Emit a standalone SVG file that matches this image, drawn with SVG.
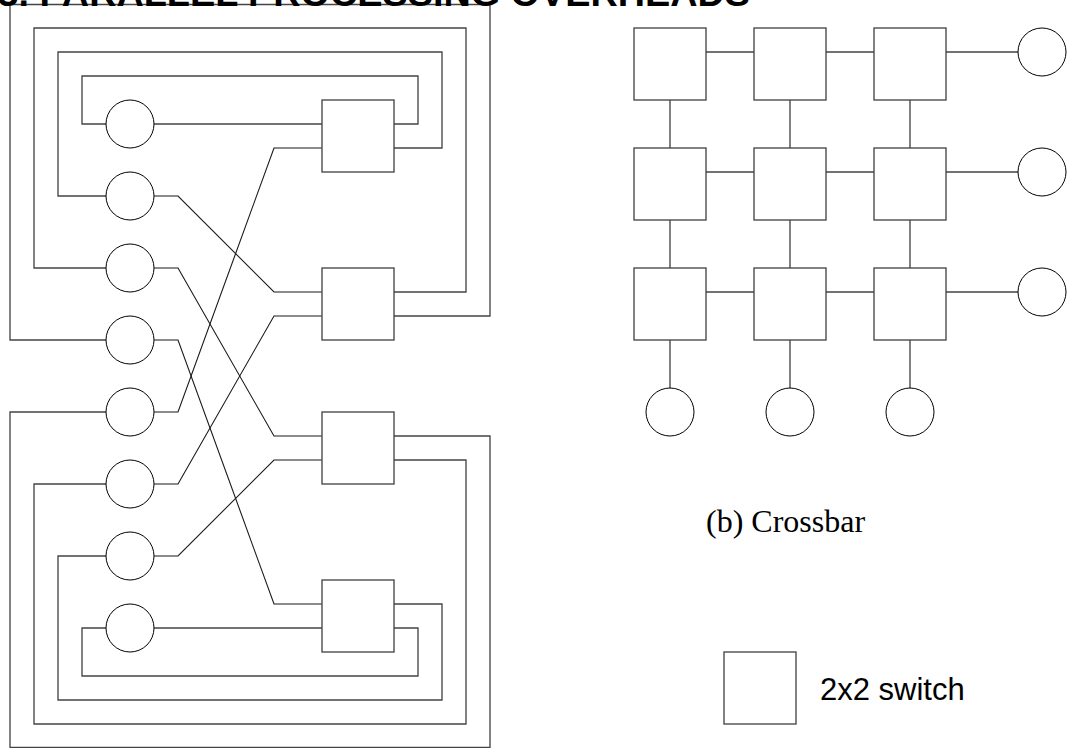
<svg xmlns="http://www.w3.org/2000/svg" width="1067" height="748" viewBox="0 0 1067 748">
<style>
.sw{fill:#fff;stroke:#444;stroke-width:1.33}
.pe{fill:#fff;stroke:#000;stroke-width:1}
.ln{fill:none;stroke:#444;stroke-width:1.33}
.dg{fill:none;stroke:#1a1a1a;stroke-width:1.1}
.title{font-family:"Liberation Sans",Arial,sans-serif;font-weight:bold;font-size:37.8px;fill:#000}
.cap{font-family:"Liberation Serif","Times New Roman",serif;font-size:32px;fill:#000}
.leg{font-family:"Liberation Sans",Arial,sans-serif;font-size:31px;fill:#000}
</style>
<rect width="1067" height="748" fill="#fff"/>
<g id="connectors">
<path class="ln" d="M106,124 H82 V76 H418 V124 H394"/>
<path class="ln" d="M154,124 H322"/>
<path class="ln" d="M106,196 H58 V52 H442 V148 H394"/>
<path class="ln" d="M106,268 H34 V28 H466 V292 H394"/>
<path class="ln" d="M106,340 H10 V4.5 H490 V316 H394"/>
<path class="ln" d="M106,412 H10 V747.5 H490 V436 H394"/>
<path class="ln" d="M106,484 H34 V724 H466 V460 H394"/>
<path class="ln" d="M106,556 H58 V700 H442 V604 H394"/>
<path class="ln" d="M106,628 H82 V676 H418 V628 H394"/>
<path class="ln" d="M154,628 H322"/>
<path class="dg" d="M154,196 H178 L274,292 H322"/>
<path class="dg" d="M154,268 H178 L274,436 H322"/>
<path class="dg" d="M154,340 H178 L274,604 H322"/>
<path class="dg" d="M154,412 H178 L274,148 H322"/>
<path class="dg" d="M154,484 H178 L274,316 H322"/>
<path class="dg" d="M154,556 H178 L274,460 H322"/>
<path class="ln" d="M706,52 H754 M826,52 H874 M946,52 H1018 M706,172 H754 M826,172 H874 M946,172 H1018 M706,292 H754 M826,292 H874 M946,292 H1018"/>
<path class="ln" d="M670,100 V148 M670,220 V268 M670,340 V388 M790,100 V148 M790,220 V268 M790,340 V388 M910,100 V148 M910,220 V268 M910,340 V388"/>
</g>
<g id="title"><text class="title" x="750" y="5.5" text-anchor="end">3. PARALLEL PROCESSING OVERHEADS</text></g>
<g id="p1"><circle class="pe" cx="130" cy="124" r="24"/></g>
<g id="p2"><circle class="pe" cx="130" cy="196" r="24"/></g>
<g id="p3"><circle class="pe" cx="130" cy="268" r="24"/></g>
<g id="p4"><circle class="pe" cx="130" cy="340" r="24"/></g>
<g id="p5"><circle class="pe" cx="130" cy="412" r="24"/></g>
<g id="p6"><circle class="pe" cx="130" cy="484" r="24"/></g>
<g id="p7"><circle class="pe" cx="130" cy="556" r="24"/></g>
<g id="p8"><circle class="pe" cx="130" cy="628" r="24"/></g>
<g id="s1"><rect class="sw" x="322" y="100" width="72" height="72"/></g>
<g id="s2"><rect class="sw" x="322" y="268" width="72" height="72"/></g>
<g id="s3"><rect class="sw" x="322" y="412" width="72" height="72"/></g>
<g id="s4"><rect class="sw" x="322" y="580" width="72" height="72"/></g>
<g id="x11"><rect class="sw" x="634" y="28" width="72" height="72"/></g>
<g id="x12"><rect class="sw" x="754" y="28" width="72" height="72"/></g>
<g id="x13"><rect class="sw" x="874" y="28" width="72" height="72"/></g>
<g id="x21"><rect class="sw" x="634" y="148" width="72" height="72"/></g>
<g id="x22"><rect class="sw" x="754" y="148" width="72" height="72"/></g>
<g id="x23"><rect class="sw" x="874" y="148" width="72" height="72"/></g>
<g id="x31"><rect class="sw" x="634" y="268" width="72" height="72"/></g>
<g id="x32"><rect class="sw" x="754" y="268" width="72" height="72"/></g>
<g id="x33"><rect class="sw" x="874" y="268" width="72" height="72"/></g>
<g id="r1"><circle class="pe" cx="1042" cy="52" r="24"/></g>
<g id="r2"><circle class="pe" cx="1042" cy="172" r="24"/></g>
<g id="r3"><circle class="pe" cx="1042" cy="292" r="24"/></g>
<g id="b1"><circle class="pe" cx="670" cy="412" r="24"/></g>
<g id="b2"><circle class="pe" cx="790" cy="412" r="24"/></g>
<g id="b3"><circle class="pe" cx="910" cy="412" r="24"/></g>
<g id="caption"><text class="cap" x="706" y="532">(b) Crossbar</text></g>
<g id="legend">
<rect class="sw" x="724" y="652" width="72" height="72"/>
<text class="leg" x="820" y="700">2x2 switch</text>
</g>
</svg>
